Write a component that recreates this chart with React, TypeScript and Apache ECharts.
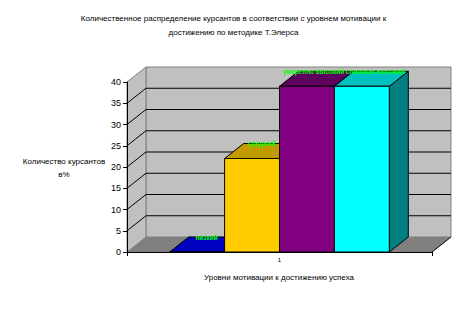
import React, { useEffect, useRef } from "react";
import * as echarts from "echarts";

const CATEGORIES = ["1"];
const SERIES_NAMES = ["низкий", "средний", "умеренно высокий", "слишком высокий"];
const SERIES_VALUES = [0, 22, 39, 39];
const Y_MIN = 0;
const Y_MAX = 40;
const Y_STEP = 5;
const GRID_VALUES = [5, 10, 15, 20, 25, 30, 35];

const TITLE = "Количественное распределение курсантов в соответствии с уровнем мотивации к\nдостижению по методике Т.Элерса";
const Y_NAME = "Количество курсантов\nв%";
const X_NAME = "Уровни мотивации к достижению успеха";

const FRONT_COLORS = ["#0000ff", "#ffcc00", "#800080", "#00ffff"];
const TOP_COLORS = ["#0000c0", "#c09a00", "#5e005e", "#00c0c0"];
const SIDE_COLORS = ["#000080", "#806600", "#400040", "#008080"];
const LABEL_NUDGE = [0, 0, -3, 4];

const DX = 19;
const DY = -15;
const FONT = '"Liberation Sans", Arial, sans-serif';

export default function App() {
  const ref = useRef<HTMLDivElement>(null);
  useEffect(() => {
    if (!ref.current) return;
    const chart = echarts.init(ref.current, undefined, { renderer: "svg" });

    const frameSeries: any = {
      type: "custom",
      z: 1,
      silent: true,
      data: [[0, 0]],
      renderItem: (params: any, api: any) => {
        const band = api.size([1, 0])[0];
        const c0 = api.coord([0, Y_MIN]);
        const cTop = api.coord([0, Y_MAX]);
        const xl = c0[0] - band / 2;
        const xr = c0[0] + band / 2;
        const y0 = c0[1];
        const yT = cTop[1];
        const children: any[] = [
          {
            type: "polygon",
            shape: { points: [[xl + DX, yT + DY], [xr + DX, yT + DY], [xr + DX, y0 + DY], [xl + DX, y0 + DY]] },
            style: { fill: "#c0c0c0", stroke: "#808080", lineWidth: 1 },
          },
          {
            type: "polygon",
            shape: { points: [[xl, yT], [xl + DX, yT + DY], [xl + DX, y0 + DY], [xl, y0]] },
            style: { fill: "#c0c0c0", stroke: "#808080", lineWidth: 1 },
          },
          {
            type: "polygon",
            shape: { points: [[xl, y0], [xl + DX, y0 + DY], [xr + DX, y0 + DY], [xr, y0]] },
            style: { fill: "#808080", stroke: "none" },
          },
          {
            type: "line",
            shape: { x1: xr, y1: y0, x2: xr + DX, y2: y0 + DY },
            style: { stroke: "#000", lineWidth: 1 },
          },
        ];
        GRID_VALUES.forEach((v) => {
          const y = api.coord([0, v])[1];
          children.push({
            type: "polyline",
            shape: { points: [[xl, y], [xl + DX, y + DY], [xr + DX, y + DY]] },
            style: { stroke: "#000", lineWidth: 1, fill: "none" },
          });
        });
        return { type: "group", children };
      },
    };

    const barSeries = SERIES_NAMES.map((name, si) => ({
      type: "custom",
      name,
      z: 2 + si,
      silent: true,
      data: [[0, SERIES_VALUES[si]]],
      renderItem: (params: any, api: any) => {
        const v = api.value(1);
        const c = api.coord([api.value(0), v]);
        const base = api.coord([api.value(0), 0]);
        const band = api.size([1, 0])[0];
        const bw = band * 0.18;
        const x0 = c[0] - 2 * bw + si * bw;
        const x1 = x0 + bw;
        const yt = c[1];
        const yb = base[1];
        const stroke = { stroke: "#000", lineWidth: 1 };
        return {
          type: "group",
          children: [
            {
              type: "polygon",
              shape: { points: [[x1, yt], [x1 + DX, yt + DY], [x1 + DX, yb + DY], [x1, yb]] },
              style: { fill: SIDE_COLORS[si], ...stroke },
            },
            {
              type: "polygon",
              shape: { points: [[x0, yt], [x0 + DX, yt + DY], [x1 + DX, yt + DY], [x1, yt]] },
              style: { fill: TOP_COLORS[si], ...stroke },
            },
            {
              type: "polygon",
              shape: { points: [[x0, yt], [x1, yt], [x1, yb], [x0, yb]] },
              style: { fill: FRONT_COLORS[si], ...stroke },
            },
            {
              type: "text",
              x: (x0 + x1) / 2 + DX / 2 + LABEL_NUDGE[si],
              y: yt + DY,
              style: {
                text: name,
                fill: "#00ff00",
                font: `bold 6.5px ${FONT}`,
                align: "center",
                verticalAlign: "middle",
              },
            },
          ],
        };
      },
    }));

    chart.setOption({
      animation: false,
      backgroundColor: "#ffffff",
      grid: { left: 127, right: 35, top: 82, bottom: 62 },
      xAxis: {
        type: "category",
        data: CATEGORIES,
        z: 10,
        axisLine: { show: true, lineStyle: { color: "#000", width: 1 } },
        axisTick: { show: true, length: 4, lineStyle: { color: "#000" } },
        axisLabel: { fontSize: 6, color: "#000", margin: 5, fontFamily: FONT },
        splitLine: { show: false },
      },
      yAxis: {
        type: "value",
        min: Y_MIN,
        max: Y_MAX,
        interval: Y_STEP,
        z: 10,
        axisLine: { show: true, lineStyle: { color: "#000", width: 1 } },
        axisTick: { show: true, length: 4, lineStyle: { color: "#000" } },
        axisLabel: { fontSize: 9, color: "#000", margin: 6, fontFamily: FONT },
        splitLine: { show: false },
      },
      graphic: [
        {
          type: "text",
          x: 233.5,
          y: 25,
          style: {
            text: TITLE,
            fill: "#000",
            font: `8px ${FONT}`,
            textAlign: "center",
            textVerticalAlign: "middle",
            lineHeight: 14,
          },
        },
        {
          type: "text",
          x: 64,
          y: 168,
          style: {
            text: Y_NAME,
            fill: "#000",
            font: `8px ${FONT}`,
            textAlign: "center",
            textVerticalAlign: "middle",
            lineHeight: 13,
          },
        },
        {
          type: "text",
          x: 279,
          y: 277,
          style: {
            text: X_NAME,
            fill: "#000",
            font: `8px ${FONT}`,
            textAlign: "center",
            textVerticalAlign: "middle",
          },
        },
      ],
      series: [frameSeries, ...barSeries],
    });

    return () => chart.dispose();
  }, []);

  return (
    <div
      ref={ref}
      style={{ position: "fixed", left: 0, top: 0, width: 467, height: 314 }}
    />
  );
}
